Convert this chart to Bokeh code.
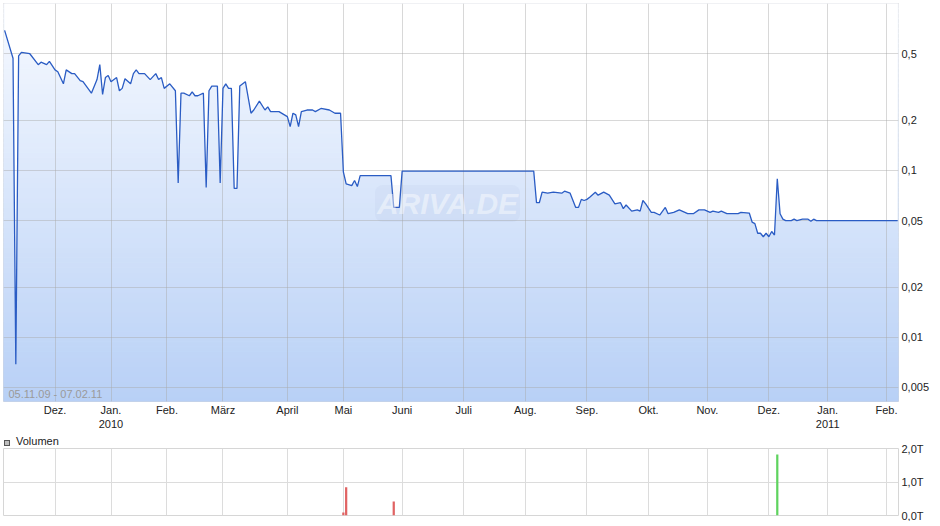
import numpy as np
import pandas as pd
from bokeh.plotting import figure
from bokeh.models import Range1d, FixedTicker, Label, Div
from bokeh.layouts import column
from bokeh.embed import file_html
from bokeh.resources import INLINE

# ---------------- data ----------------
first_day = "2009-11-05"
last_day = "2011-02-07"
holidays = ["2009-12-24", "2009-12-25", "2009-12-31", "2010-01-01",
            "2010-04-02", "2010-04-05", "2010-12-24", "2010-12-31"]

price_dates = [
    "2009-11-05", "2009-11-10", "2009-11-11", "2009-11-12", "2009-11-13", "2009-11-18", "2009-11-23", "2009-11-24", "2009-11-26", "2009-11-27",
    "2009-12-01", "2009-12-02", "2009-12-04", "2009-12-07", "2009-12-09", "2009-12-10", "2009-12-14", "2009-12-15", "2009-12-18", "2009-12-22", "2009-12-23", "2009-12-28", "2009-12-29", "2009-12-30",
    "2010-01-04", "2010-01-06", "2010-01-07", "2010-01-08", "2010-01-11", "2010-01-13", "2010-01-14", "2010-01-15", "2010-01-18", "2010-01-20", "2010-01-22", "2010-01-26", "2010-01-27", "2010-01-28", "2010-01-29",
    "2010-02-02", "2010-02-04", "2010-02-05", "2010-02-08", "2010-02-09", "2010-02-11", "2010-02-12", "2010-02-15", "2010-02-16", "2010-02-18", "2010-02-19", "2010-02-22", "2010-02-23", "2010-02-25", "2010-02-26",
    "2010-03-01", "2010-03-02", "2010-03-03", "2010-03-04", "2010-03-05", "2010-03-08", "2010-03-09", "2010-03-11", "2010-03-15", "2010-03-16", "2010-03-18", "2010-03-22", "2010-03-23", "2010-03-24", "2010-03-29",
    "2010-04-01", "2010-04-06", "2010-04-07", "2010-04-08", "2010-04-09", "2010-04-12", "2010-04-14", "2010-04-16", "2010-04-19", "2010-04-21", "2010-04-26", "2010-04-28", "2010-04-30",
    "2010-05-03", "2010-05-04", "2010-05-06", "2010-05-07", "2010-05-10", "2010-05-11", "2010-05-26", "2010-05-27", "2010-05-31",
    "2010-06-01", "2010-08-05", "2010-08-06", "2010-08-09", "2010-08-10", "2010-08-12", "2010-08-16", "2010-08-19", "2010-08-20", "2010-08-24", "2010-08-26", "2010-08-27", "2010-08-30", "2010-08-31",
    "2010-09-01", "2010-09-02", "2010-09-06", "2010-09-07", "2010-09-09", "2010-09-13", "2010-09-15", "2010-09-17", "2010-09-20", "2010-09-21", "2010-09-23", "2010-09-27", "2010-09-28", "2010-09-29", "2010-09-30",
    "2010-10-04", "2010-10-05", "2010-10-07", "2010-10-11", "2010-10-12", "2010-10-14", "2010-10-18", "2010-10-19", "2010-10-21", "2010-10-25", "2010-10-27", "2010-10-29",
    "2010-11-02", "2010-11-03", "2010-11-05", "2010-11-08", "2010-11-10", "2010-11-16", "2010-11-17", "2010-11-22", "2010-11-23", "2010-11-24", "2010-11-25", "2010-11-26", "2010-11-29", "2010-11-30",
    "2010-12-01", "2010-12-02", "2010-12-03", "2010-12-06", "2010-12-07", "2010-12-08", "2010-12-09", "2010-12-13", "2010-12-14", "2010-12-15", "2010-12-17", "2010-12-21", "2010-12-22", "2010-12-23", "2010-12-27",
    "2011-02-07",
]
price_values = [
    0.69, 0.47, 0.0069, 0.486, 0.51, 0.50, 0.43, 0.445, 0.43, 0.45,
    0.40, 0.39, 0.33, 0.40, 0.38, 0.38, 0.345, 0.34, 0.29, 0.35, 0.43, 0.285, 0.36, 0.37,
    0.34, 0.36, 0.30, 0.31, 0.354, 0.33, 0.38, 0.40, 0.38, 0.38, 0.35, 0.38, 0.35, 0.36, 0.31,
    0.33, 0.30, 0.084, 0.29, 0.29, 0.28, 0.295, 0.28, 0.28, 0.29, 0.079, 0.30, 0.32, 0.32, 0.084,
    0.31, 0.33, 0.31, 0.31, 0.078, 0.078, 0.32, 0.34, 0.22, 0.23, 0.26, 0.23, 0.24, 0.225, 0.225,
    0.21, 0.183, 0.22, 0.215, 0.183, 0.225, 0.23, 0.23, 0.225, 0.235, 0.23, 0.22, 0.22,
    0.098, 0.083, 0.081, 0.087, 0.080, 0.093, 0.093, 0.060, 0.060,
    0.099, 0.099, 0.064, 0.064, 0.074, 0.073, 0.074, 0.073, 0.075, 0.073, 0.060, 0.060, 0.067, 0.066,
    0.067, 0.069, 0.074, 0.071, 0.074, 0.071, 0.063, 0.064, 0.059, 0.062, 0.057, 0.058, 0.057, 0.066, 0.063,
    0.056, 0.056, 0.054, 0.060, 0.055, 0.056, 0.058, 0.057, 0.055, 0.055, 0.058, 0.058,
    0.056, 0.057, 0.056, 0.057, 0.055, 0.055, 0.056, 0.0555, 0.049, 0.048, 0.042, 0.042, 0.040, 0.042,
    0.040, 0.043, 0.041, 0.089, 0.055, 0.051, 0.050, 0.050, 0.051, 0.050, 0.051, 0.051, 0.0495, 0.051, 0.050,
    0.050,
]

month_ticks = ["2009-12", "2010-01", "2010-02", "2010-03", "2010-04", "2010-05", "2010-06", "2010-07",
               "2010-08", "2010-09", "2010-10", "2010-11", "2010-12", "2011-01", "2011-02"]
month_labels = ["Dez.", "Jan.\n2010", "Feb.", "März", "April", "Mai", "Juni", "Juli",
                "Aug.", "Sep.", "Okt.", "Nov.", "Dez.", "Jan.\n2011", "Feb."]

price_ticks = [0.005, 0.01, 0.02, 0.05, 0.1, 0.2, 0.5]
price_labels = ["0,005", "0,01", "0,02", "0,05", "0,1", "0,2", "0,5"]

vol_dates = ["2010-05-03", "2010-05-04", "2010-05-27", "2010-12-06"]
vol_values = [90, 840, 420, 1820]
vol_colors = ["#e06363", "#e06363", "#e06363", "#5fd35f"]
vol_ticks = [0, 1000, 2000]
vol_labels = ["0,0T", "1,0T", "2,0T"]
vol_title = "Volumen"

date_range_text = "05.11.09 - 07.02.11"

# ---------------- trading-day axis ----------------
days = pd.bdate_range(first_day, last_day)
days = days[~days.isin(pd.to_datetime(holidays))]
pos = {d: i for i, d in enumerate(days)}
px = [pos[pd.Timestamp(d)] for d in price_dates]
vx = [pos[pd.Timestamp(d)] for d in vol_dates]
tick_idx = []
for m in month_ticks:
    per = pd.Period(m, freq="M")
    tick_idx.append(int(next(i for i, d in enumerate(days) if d.to_period("M") == per)))

FONT = "Liberation Sans"
x_lo, x_hi = -0.4, len(days) - 1 + 0.3
y_lo, y_hi = 0.00412, 1.0

# ---------------- main price chart ----------------
p = figure(frame_width=895, frame_height=398,
           x_range=Range1d(x_lo, x_hi), y_range=Range1d(y_lo, y_hi),
           y_axis_type="log", y_axis_location="right",
           output_backend="svg", toolbar_location=None,
           min_border_left=0, min_border_top=0, min_border_right=0, min_border_bottom=0,
           outline_line_color="#d6d6d6", background_fill_color="white", border_fill_color="white")

# gradient background (below the price line)
n = 80
edges = np.logspace(np.log10(y_lo), np.log10(y_hi), n + 1)
top_c = np.array([247, 250, 255])
bot_c = np.array([184, 208, 246])
cols = []
for i in range(n):
    t = (i + 0.5) / n
    c = bot_c + (top_c - bot_c) * t
    cols.append("#%02x%02x%02x" % tuple(int(round(v)) for v in c))
p.quad(left=x_lo, right=x_hi, bottom=edges[:-1], top=edges[1:], fill_color=cols,
       line_color=cols, line_width=1.2, level="image")
# white above the line
p.varea(x=px, y1=price_values, y2=y_hi, fill_color="white", level="image")

p.line(px, price_values, line_color="#2a5cc4", line_width=1.3)

p.xaxis.ticker = FixedTicker(ticks=tick_idx)
p.xaxis.major_label_overrides = {t: l for t, l in zip(tick_idx, month_labels)}
p.yaxis.ticker = FixedTicker(ticks=price_ticks)
p.yaxis.major_label_overrides = {t: l for t, l in zip(price_ticks, price_labels)}
p.xgrid.ticker = FixedTicker(ticks=tick_idx)
p.ygrid.ticker = FixedTicker(ticks=price_ticks)
for ax in (p.xaxis, p.yaxis):
    ax.axis_line_color = None
    ax.major_tick_line_color = None
    ax.minor_tick_line_color = None
    ax.major_tick_out = 0
    ax.major_tick_in = 0
    ax.minor_tick_out = 0
    ax.major_label_text_font = FONT
    ax.major_label_text_font_size = "11px"
    ax.major_label_text_color = "#222222"
p.xaxis.major_label_standoff = 2
p.yaxis.major_label_standoff = 3
p.grid.grid_line_color = "#a8a8a8"
p.grid.grid_line_alpha = 0.45
p.grid.level = "underlay"

p.add_layout(Label(x=444, y=198, x_units="screen", y_units="screen", text="ARIVA.DE",
                   text_font=FONT, text_font_style="bold italic", text_font_size="30px",
                   text_color="white", text_alpha=0.45, text_align="center", text_baseline="middle",
                   background_fill_color="#6f8fc0", background_fill_alpha=0.06,
                   border_radius=8, padding=2))
p.add_layout(Label(x=5, y=2, x_units="screen", y_units="screen", text=date_range_text,
                   text_font=FONT, text_font_size="11px", text_color="#9a9a9a",
                   text_baseline="bottom"))

# ---------------- volume legend line ----------------
legend_div = Div(
    text=('<span style="display:inline-block;width:6px;height:6px;background:#bdbdbd;'
          'border:1px solid #555;margin:0 6px 0 1px;vertical-align:-1px"></span>' + vol_title),
    width=200, height=8,
    styles={"font-family": FONT, "font-size": "11px", "line-height": "13px", "color": "#222",
            "overflow": "visible", "margin": "0", "padding": "3px 0 0 0", "white-space": "nowrap"})

# ---------------- volume chart ----------------
v = figure(frame_width=895, frame_height=67,
           x_range=p.x_range, y_range=Range1d(0, 2000),
           y_axis_location="right", output_backend="svg", toolbar_location=None,
           min_border_left=0, min_border_top=8, min_border_right=0, min_border_bottom=6,
           outline_line_color="#d6d6d6", background_fill_color="white",
           border_fill_color="white", border_fill_alpha=0)
v.vbar(x=vx, top=vol_values, width=0.8, fill_color=vol_colors, line_color=None)
v.xaxis.visible = False
v.xgrid.ticker = FixedTicker(ticks=tick_idx)
v.yaxis.ticker = FixedTicker(ticks=vol_ticks)
v.ygrid.ticker = FixedTicker(ticks=vol_ticks)
v.yaxis.major_label_overrides = {t: l for t, l in zip(vol_ticks, vol_labels)}
v.yaxis.axis_line_color = None
v.yaxis.major_tick_line_color = None
v.yaxis.minor_tick_line_color = None
v.yaxis.major_tick_out = 0
v.yaxis.major_tick_in = 0
v.yaxis.major_label_text_font = FONT
v.yaxis.major_label_text_font_size = "11px"
v.yaxis.major_label_text_color = "#222222"
v.yaxis.major_label_standoff = 3
v.grid.grid_line_color = "#dcdcdc"

layout = column(p, legend_div, v, spacing=0, styles={"margin-left": "3px", "margin-top": "3px"})

open("out.html", "w").write(file_html(layout, INLINE))
